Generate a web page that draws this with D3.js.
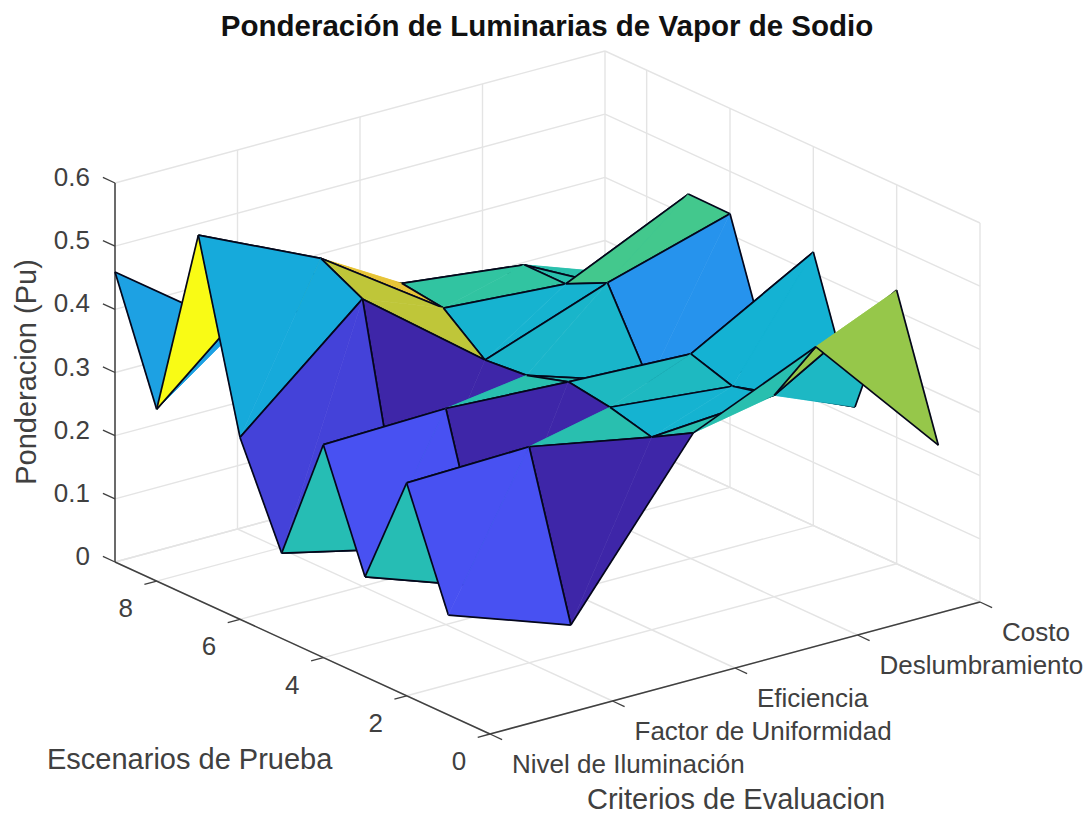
<!DOCTYPE html>
<html>
<head>
<meta charset="utf-8">
<script src="https://cdn.jsdelivr.net/npm/d3@7"></script>
<style>
  html, body { margin: 0; background: #fff; }
  text { font-family: "Liberation Sans", Arial, sans-serif; fill: #404040; }
</style>
</head>
<body>
<div id="chart"></div>
<script>
var criterios = ["Nivel de Iluminación", "Factor de Uniformidad", "Eficiencia", "Deslumbramiento", "Costo"];
var escenarios = [1, 2, 3, 4, 5, 6, 7, 8, 9];
var yTicks = [0, 2, 4, 6, 8];
var zTicks = [0, 0.1, 0.2, 0.3, 0.4, 0.5, 0.6];

// one list per criterio, values go escenario 1..9
var nivel        = [0.158, 0.337, 0.158, 0.337, 0.135, 0.288, 0.578, 0.272, 0.459];
var uniformidad  = [0.090, 0.342, 0.090, 0.342, 0.090, 0.455, 0.489, 0.440, 0.318];
var eficiencia   = [0.342, 0.305, 0.322, 0.332, 0.312, 0.306, 0.358, 0.367, 0.320];
var deslumbra    = [0.426, 0.319, 0.303, 0.324, 0.250, 0.376, 0.344, 0.344, 0.300];
var costo        = [0.218, 0.433, 0.218, 0.433, 0.218, 0.433, 0.434, 0.245, 0.250];
var Z = [nivel, uniformidad, eficiencia, deslumbra, costo];

var parula = ["#3e26a8", "#4852f4", "#2e87f7", "#12b1d6", "#37c897", "#abc739", "#fec338", "#f9fb15"];

var width = 1092, height = 814;

var originX = 490, originY = 734;
var xPx = d3.scaleLinear().domain([0, 4]).range([0, 490]);
var xPy = d3.scaleLinear().domain([0, 4]).range([0, -132]);
var yPx = d3.scaleLinear().domain([0, 9]).range([0, -375]);
var yPy = d3.scaleLinear().domain([0, 9]).range([0, -172]);
var zPy = d3.scaleLinear().domain([0, 0.6]).range([0, -379]);

function project(i, y, z) {
    return [originX + xPx(i) + yPx(y), originY + xPy(i) + yPy(y) + zPy(z)];
}

var allZ = d3.merge(Z);
var colorscale = d3.scaleLinear()
    .domain(parula.map(function(c, k) {
        return d3.min(allZ) + (d3.max(allZ) - d3.min(allZ)) * k / (parula.length - 1);
    }))
    .range(parula);

var svg = d3.select("#chart").append("svg")
    .attr("width", width)
    .attr("height", height)
    .style("display", "block");

var line = d3.line();

function seg(g, a, b, color, w) {
    g.append("path")
        .attr("d", line([a, b]))
        .attr("fill", "none")
        .attr("stroke", color)
        .attr("stroke-width", w);
}

// back walls and floor grid
var grid = svg.append("g");
var gridColor = "#e4e4e4";
criterios.forEach(function(c, i) {
    seg(grid, project(i, 0, 0), project(i, 9, 0), gridColor, 1.4);
    seg(grid, project(i, 9, 0), project(i, 9, 0.6), gridColor, 1.4);
});
yTicks.forEach(function(y) {
    seg(grid, project(0, y, 0), project(4, y, 0), gridColor, 1.4);
    seg(grid, project(4, y, 0), project(4, y, 0.6), gridColor, 1.4);
});
seg(grid, project(0, 9, 0), project(4, 9, 0), gridColor, 1.4);
zTicks.forEach(function(z) {
    seg(grid, project(0, 9, z), project(4, 9, z), gridColor, 1.4);
    seg(grid, project(4, 9, z), project(4, 0, z), gridColor, 1.4);
});

// axes lines
var axis = svg.append("g");
var axisColor = "#404040";
seg(axis, project(0, 0, 0), project(4, 0, 0), axisColor, 1.5);
seg(axis, project(0, 0, 0), project(0, 9, 0), axisColor, 1.5);
seg(axis, project(0, 9, 0), project(0, 9, 0.6), axisColor, 1.5);

criterios.forEach(function(c, i) {
    var p = project(i, 0, 0);
    seg(axis, p, project(i, -0.29, 0), axisColor, 1.3);
    axis.append("text")
        .attr("x", p[0] + 22)
        .attr("y", p[1] + 39)
        .style("font-size", "26px")
        .text(c);
});

yTicks.forEach(function(y) {
    var p = project(0, y, 0);
    seg(axis, p, project(-0.1, y, 0), axisColor, 1.3);
    axis.append("text")
        .attr("x", p[0] - 31)
        .attr("y", p[1] + 36)
        .attr("text-anchor", "middle")
        .style("font-size", "26px")
        .text(y);
});

zTicks.forEach(function(z) {
    var p = project(0, 9, z);
    seg(axis, p, project(0, 9.29, z), axisColor, 1.3);
    axis.append("text")
        .attr("x", p[0] - 25)
        .attr("y", p[1] + 3)
        .attr("text-anchor", "end")
        .style("font-size", "26px")
        .text(z);
});

// surface, far faces first. each quad is two triangles with the diagonal left unstroked
var surf = svg.append("g");
function tri(corners, edges, color) {
    surf.append("path")
        .attr("d", line(corners) + "Z")
        .attr("fill", color)
        .attr("stroke", color)
        .attr("stroke-width", 0.6);
    edges.forEach(function(e) {
        seg(surf, e[0], e[1], "#04061a", 1.7);
    });
}
for (var i = criterios.length - 2; i >= 0; i--) {
    for (var j = escenarios.length - 2; j >= 0; j--) {
        var a = project(i, escenarios[j], Z[i][j]);
        var b = project(i + 1, escenarios[j], Z[i + 1][j]);
        var c = project(i + 1, escenarios[j + 1], Z[i + 1][j + 1]);
        var d = project(i, escenarios[j + 1], Z[i][j + 1]);
        var color = colorscale(Z[i][j]);
        tri([a, c, d], [[c, d], [d, a]], color);
        tri([a, b, c], [[a, b], [b, c]], color);
    }
}

// labels
svg.append("text")
    .attr("x", 547)
    .attr("y", 36)
    .attr("text-anchor", "middle")
    .style("font-size", "29.5px")
    .style("font-weight", "bold")
    .style("fill", "#111")
    .text("Ponderación de Luminarias de Vapor de Sodio");

svg.append("text")
    .attr("transform", "translate(36,372) rotate(-90)")
    .attr("text-anchor", "middle")
    .style("font-size", "29px")
    .text("Ponderacion (Pu)");

svg.append("text")
    .attr("x", 47)
    .attr("y", 769)
    .style("font-size", "29px")
    .text("Escenarios de Prueba");

svg.append("text")
    .attr("x", 587)
    .attr("y", 809)
    .style("font-size", "29px")
    .text("Criterios de Evaluacion");
</script>
</body>
</html>
